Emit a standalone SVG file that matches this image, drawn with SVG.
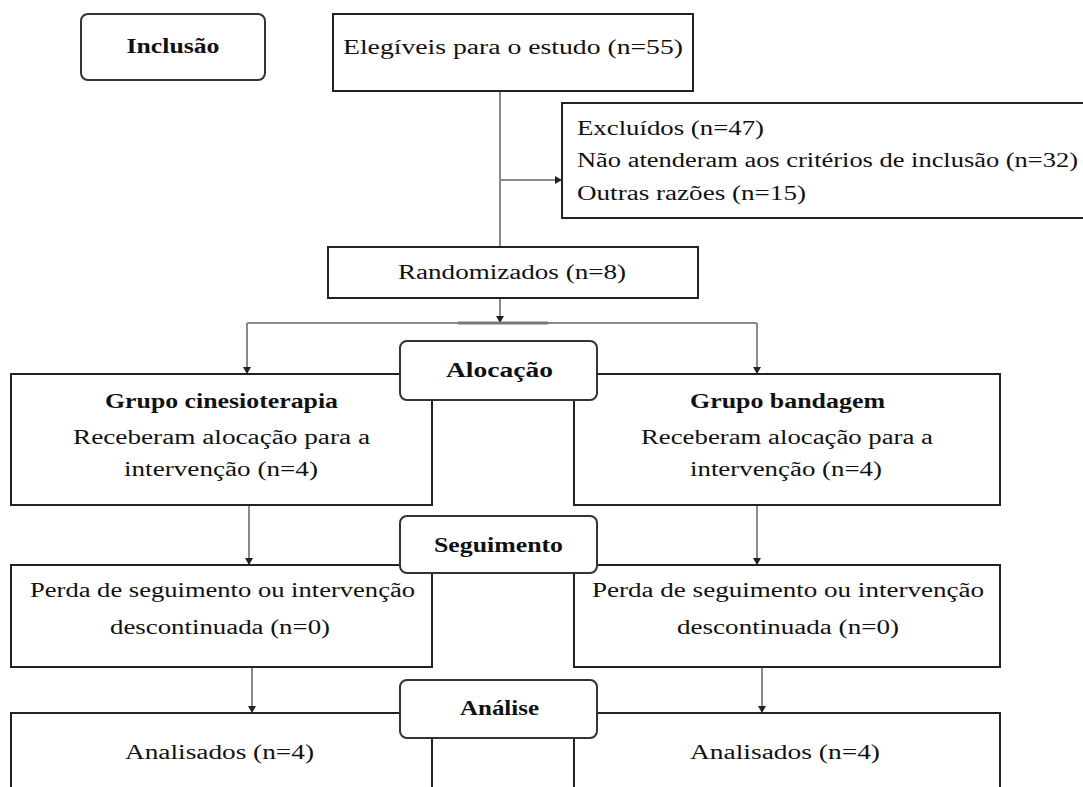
<svg xmlns="http://www.w3.org/2000/svg" width="1083" height="787" viewBox="0 0 1083 787">
<style>
text{font-family:"Liberation Serif","Times New Roman",serif;font-size:20px;fill:#111}
.b{font-weight:bold}
.box{fill:#fff;stroke:#222;stroke-width:2}
.lbl{fill:#fff;stroke:#333;stroke-width:2}
.c{fill:none;stroke:#8a8a8a;stroke-width:2}
</style>
<defs>
<marker id="ah" markerWidth="8" markerHeight="8" refX="6" refY="4" orient="auto" markerUnits="userSpaceOnUse">
<path d="M0,0 L7,4 L0,8 z" fill="#222"/>
</marker>
</defs>
<rect width="1083" height="787" fill="#fff"/>
<g id="connectors">
<line class="c" x1="500" y1="91" x2="500" y2="247"/>
<line class="c" x1="500" y1="180" x2="561" y2="180" marker-end="url(#ah)"/>
<line class="c" x1="500" y1="298" x2="500" y2="322" marker-end="url(#ah)"/>
<polyline class="c" points="247,323 757,323"/>
<line x1="458" y1="323" x2="548" y2="323" stroke="#777" stroke-width="3"/>
<line class="c" x1="247" y1="323" x2="247" y2="373" marker-end="url(#ah)"/>
<line class="c" x1="757" y1="323" x2="757" y2="373" marker-end="url(#ah)"/>
<line class="c" x1="249" y1="505" x2="249" y2="564" marker-end="url(#ah)"/>
<line class="c" x1="757" y1="505" x2="757" y2="564" marker-end="url(#ah)"/>
<line class="c" x1="252" y1="667" x2="252" y2="712" marker-end="url(#ah)"/>
<line class="c" x1="762" y1="667" x2="762" y2="712" marker-end="url(#ah)"/>
</g>
<g id="n-elegiveis"><rect class="box" x="333" y="14" width="360" height="77"/><text x="343" y="54" textLength="340" lengthAdjust="spacingAndGlyphs">Elegíveis para o estudo (n=55)</text></g>
<g id="n-excluidos"><rect class="box" x="562" y="103" width="530" height="115"/>
<text x="577" y="135" textLength="187" lengthAdjust="spacingAndGlyphs">Excluídos (n=47)</text>
<text x="577" y="167" textLength="501" lengthAdjust="spacingAndGlyphs">Não atenderam aos critérios de inclusão (n=32)</text>
<text x="577" y="200" textLength="229" lengthAdjust="spacingAndGlyphs">Outras razões (n=15)</text></g>
<g id="n-random"><rect class="box" x="328" y="247" width="370" height="51"/><text x="398" y="279" textLength="228" lengthAdjust="spacingAndGlyphs">Randomizados (n=8)</text></g>
<g id="n-cines"><rect class="box" x="11" y="374" width="421" height="131"/>
<text class="b" x="105" y="408" textLength="233" lengthAdjust="spacingAndGlyphs">Grupo cinesioterapia</text>
<text x="73" y="444" textLength="297" lengthAdjust="spacingAndGlyphs">Receberam alocação para a</text>
<text x="124" y="476" textLength="194" lengthAdjust="spacingAndGlyphs">intervenção (n=4)</text></g>
<g id="n-band"><rect class="box" x="574" y="374" width="426" height="131"/>
<text class="b" x="690" y="408" textLength="195" lengthAdjust="spacingAndGlyphs">Grupo bandagem</text>
<text x="641" y="444" textLength="292" lengthAdjust="spacingAndGlyphs">Receberam alocação para a</text>
<text x="690" y="476" textLength="192" lengthAdjust="spacingAndGlyphs">intervenção (n=4)</text></g>
<g id="n-perda-l"><rect class="box" x="11" y="565" width="421" height="102"/>
<text x="30" y="597" textLength="385" lengthAdjust="spacingAndGlyphs">Perda de seguimento ou intervenção</text>
<text x="110" y="634" textLength="220" lengthAdjust="spacingAndGlyphs">descontinuada (n=0)</text></g>
<g id="n-perda-r"><rect class="box" x="574" y="565" width="426" height="102"/>
<text x="592" y="597" textLength="392" lengthAdjust="spacingAndGlyphs">Perda de seguimento ou intervenção</text>
<text x="677" y="634" textLength="222" lengthAdjust="spacingAndGlyphs">descontinuada (n=0)</text></g>
<g id="n-anal-l"><rect class="box" x="11" y="713" width="421" height="90"/>
<text x="125" y="759" textLength="189" lengthAdjust="spacingAndGlyphs">Analisados (n=4)</text></g>
<g id="n-anal-r"><rect class="box" x="574" y="713" width="426" height="90"/>
<text x="690" y="759" textLength="190" lengthAdjust="spacingAndGlyphs">Analisados (n=4)</text></g>
<g id="n-inclusao"><rect class="lbl" x="81" y="14" width="184" height="66" rx="7"/><text class="b" x="173" y="53" text-anchor="middle" textLength="93" lengthAdjust="spacingAndGlyphs">Inclusão</text></g>
<g id="n-alocacao"><rect class="lbl" x="400" y="341" width="197" height="59" rx="7"/><text class="b" x="499.5" y="377" text-anchor="middle" textLength="107" lengthAdjust="spacingAndGlyphs">Alocação</text></g>
<g id="n-seguimento"><rect class="lbl" x="400" y="516" width="197" height="57" rx="7"/><text class="b" x="498.5" y="552" text-anchor="middle" textLength="129" lengthAdjust="spacingAndGlyphs">Seguimento</text></g>
<g id="n-analise"><rect class="lbl" x="400" y="680" width="197" height="58" rx="7"/><text class="b" x="499.5" y="715" text-anchor="middle" textLength="79" lengthAdjust="spacingAndGlyphs">Análise</text></g>
</svg>
